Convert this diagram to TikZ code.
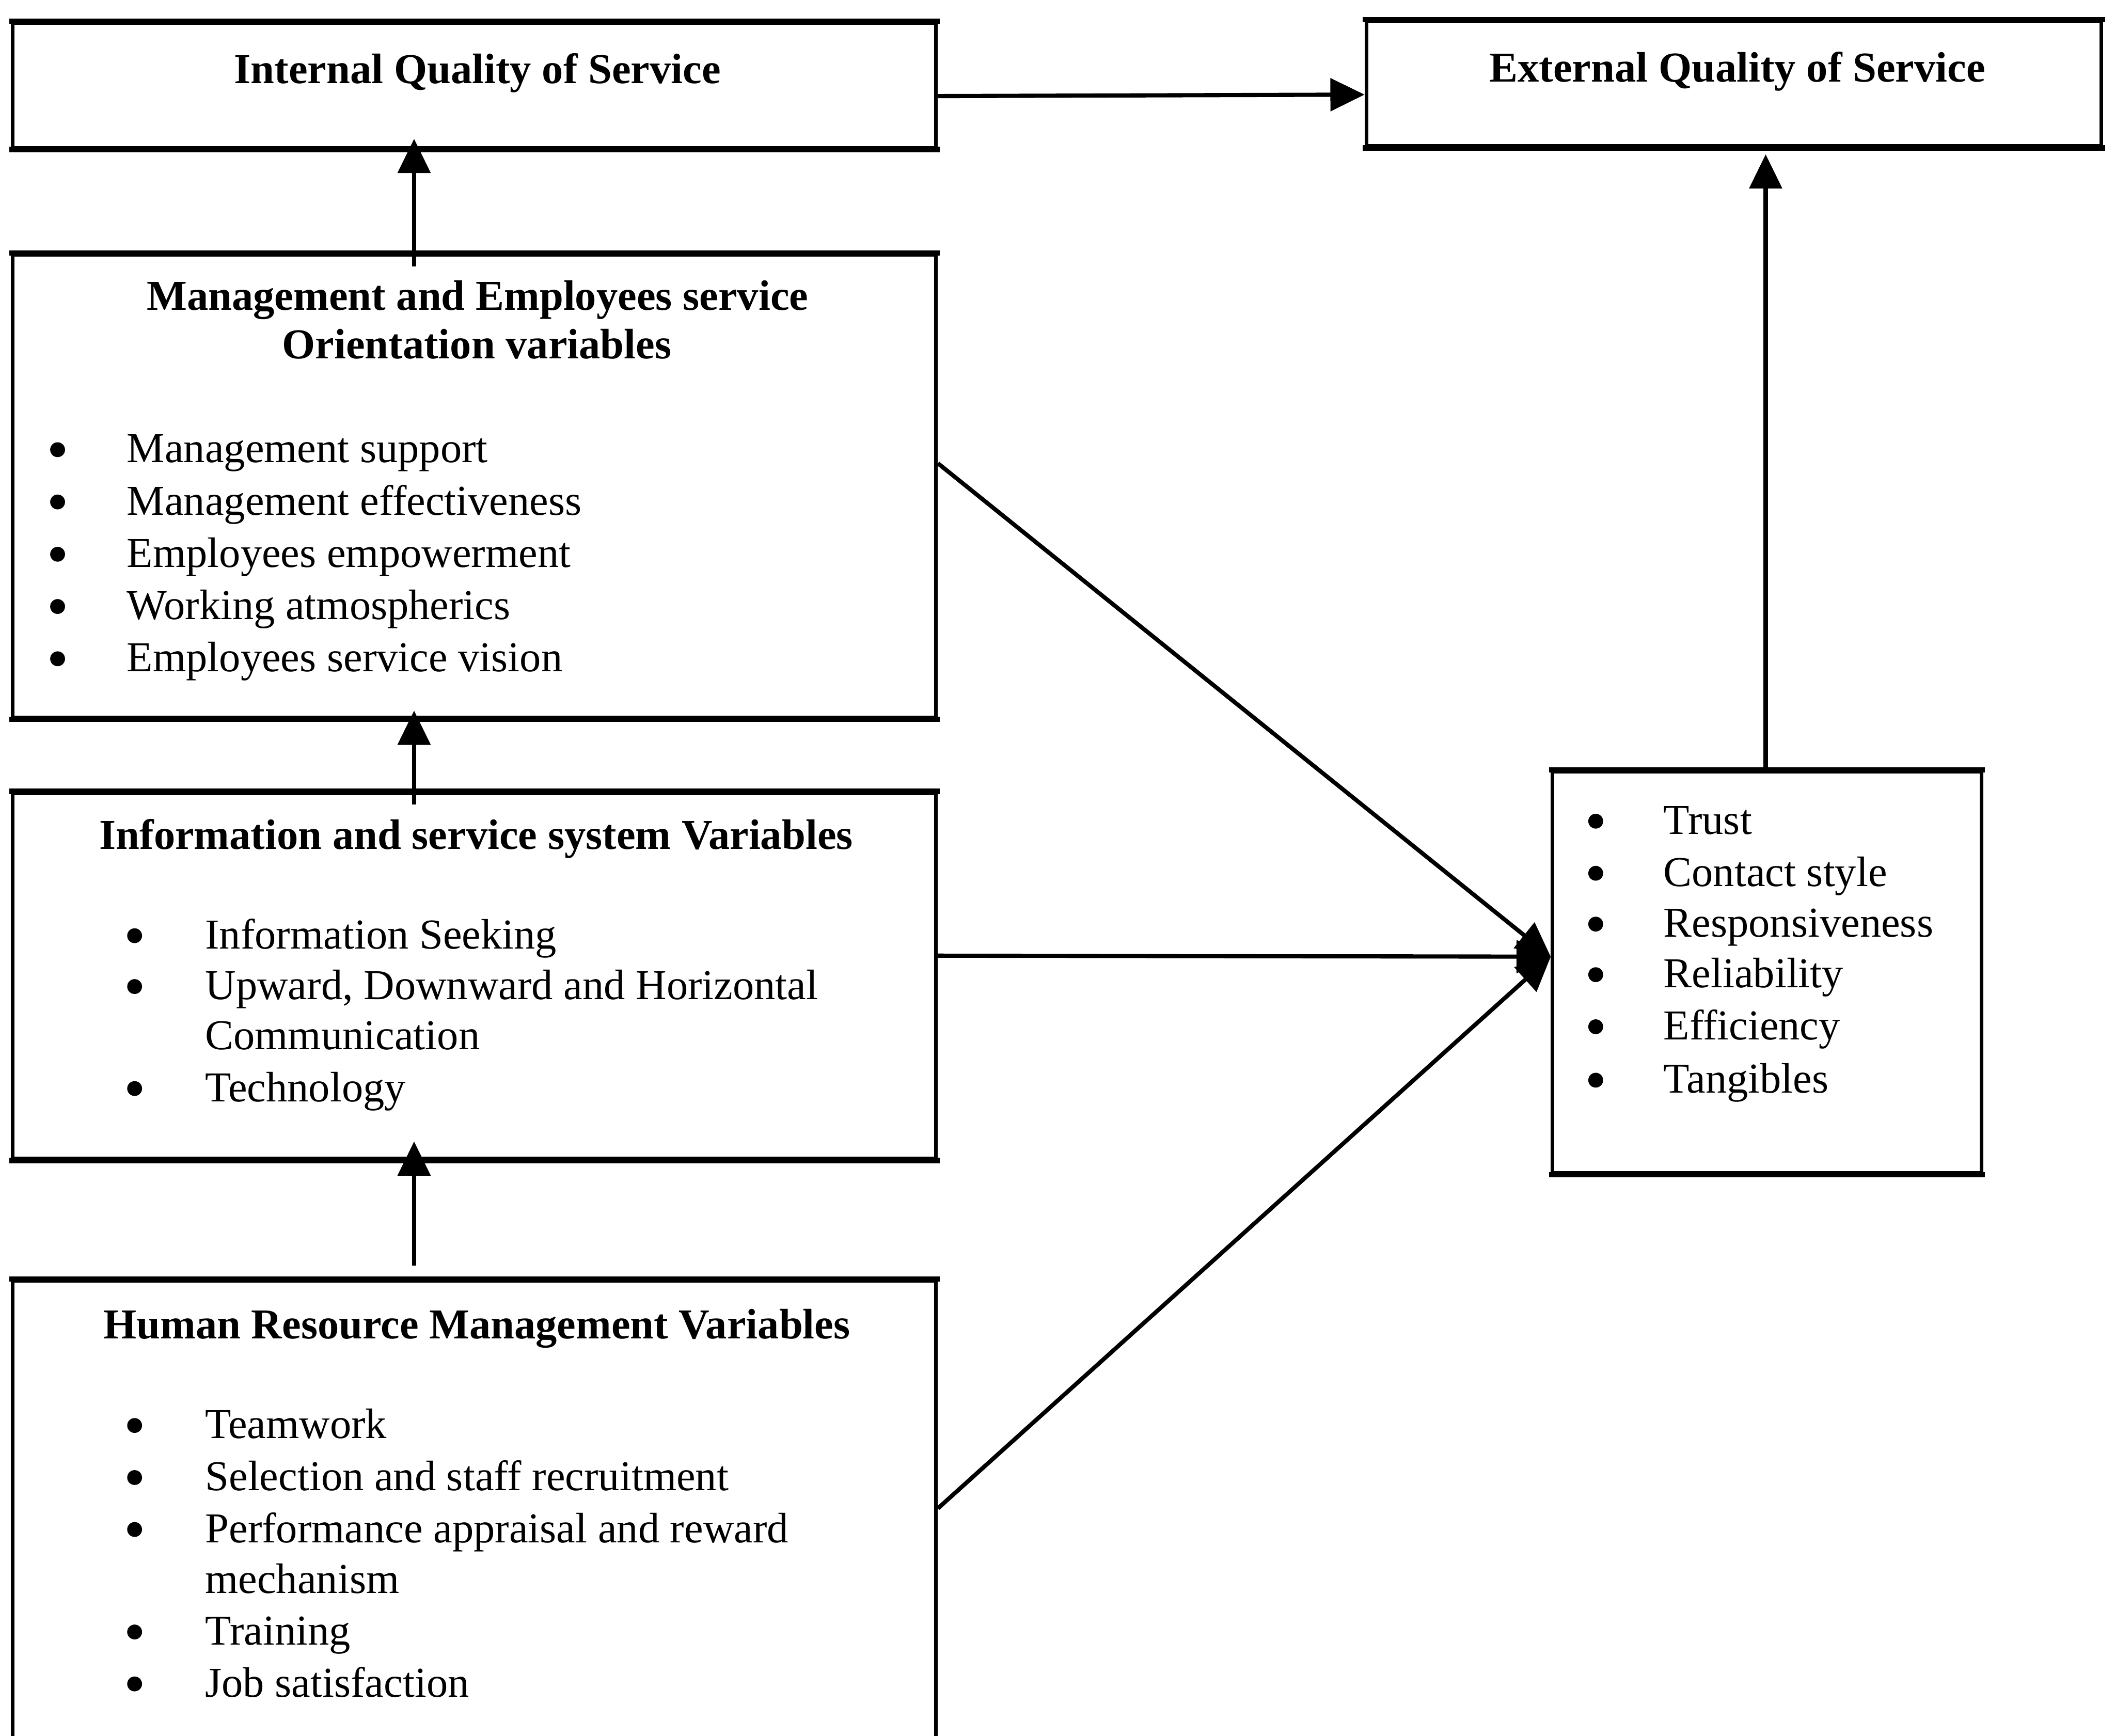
\documentclass[tikz,border=0pt]{standalone}
\usepackage{fontspec}
\setmainfont{Liberation Serif}
\usetikzlibrary{arrows.meta,fit,calc}
\begin{document}
\begin{tikzpicture}[x=0.3546pt,y=-0.3546pt,
  box/.style={draw=black, line width=0.95pt, inner sep=0pt},
  rim/.style={line width=1.4pt, shorten <=-0.475pt, shorten >=-0.475pt},
  head/.style={font=\bfseries\fontsize{11.2}{13.8}\selectfont, anchor=base, inner sep=0pt},
  item/.style={font=\fontsize{11.2}{13.8}\selectfont, anchor=base west, inner sep=0pt},
  dot/.style={circle, fill=black, inner sep=0pt, minimum size=3.9pt},
  arr/.style={-{Triangle[length=9pt,width=8.5pt]}, line width=1.1pt},
]
\clip (0,0) rectangle (1568,1287);
\fill[white] (0,0) rectangle (1568,1287);

% boxes
\node[box, fit={(9.5,17) (694,109.5)}] (int) {};
\node[box, fit={(1013,16) (1558,108.3)}] (ext) {};
\node[box, fit={(9.5,189) (694,532)}] (mgmt) {};
\node[box, fit={(9.5,588) (694,859)}] (info) {};
\node[box, fit={(9.5,949.5) (694,1320)}] (hrm) {};
\node[box, fit={(1151,572) (1469,869.5)}] (qual) {};

% heavier top and bottom rules
\foreach \b in {int,ext,mgmt,info,qual}{
  \draw[rim] (\b.north west) -- (\b.north east);
  \draw[rim] (\b.south west) -- (\b.south east);
}
\draw[rim] (hrm.north west) -- (hrm.north east);

% headings
\node[head] (int-t) at (354,62) {Internal Quality of Service};
\node[head] (ext-t) at (1288,60.5) {External Quality of Service};
\node[head] (mgmt-t1) at (354,230) {Management and Employees service};
\node[head] (mgmt-t2) at (353.5,265.7) {Orientation variables};
\node[head] (info-t) at (353,629.5) {Information and service system Variables};
\node[head] (hrm-t) at (353.5,992.6) {Human Resource Management Variables};

% management list
\foreach \y/\t [count=\i] in {343/Management support, 381.75/Management effectiveness,
    420.5/Employees empowerment, 459.25/Working atmospherics, 498/Employees service vision}{
  \node[dot] (mgmt-b\i) at (42.7,{\y-9.6}) {};
  \node[item] (mgmt-i\i) at (93.6,\y) {\t};
}

% information list
\node[dot] (info-b1) at (99.8,693.7) {};
\node[item] (info-i1) at (151.6,703.3) {Information Seeking};
\node[dot] (info-b2) at (99.8,731.4) {};
\node[item] (info-i2) at (151.6,741) {Upward, Downward and Horizontal};
\node[item] (info-i2b) at (151.6,778) {Communication};
\node[dot] (info-b3) at (99.8,807) {};
\node[item] (info-i3) at (151.6,816.6) {Technology};

% human resource list
\node[dot] (hrm-b1) at (99.8,1056.8) {};
\node[item] (hrm-i1) at (151.6,1066.4) {Teamwork};
\node[dot] (hrm-b2) at (99.8,1095.4) {};
\node[item] (hrm-i2) at (151.6,1105) {Selection and staff recruitment};
\node[dot] (hrm-b3) at (99.8,1133.9) {};
\node[item] (hrm-i3) at (151.6,1143.5) {Performance appraisal and reward};
\node[item] (hrm-i3b) at (151.6,1181) {mechanism};
\node[dot] (hrm-b4) at (99.8,1209.9) {};
\node[item] (hrm-i4) at (151.6,1219.5) {Training};
\node[dot] (hrm-b5) at (99.8,1248.4) {};
\node[item] (hrm-i5) at (151.6,1258) {Job satisfaction};

% quality dimensions
\foreach \y/\t [count=\i] in {618.4/Trust, 657/Contact style, 694.7/Responsiveness,
    732.2/Reliability, 770.8/Efficiency, 810.4/Tangibles}{
  \node[dot] (qual-b\i) at (1183,{\y-9.6}) {};
  \node[item] (qual-i\i) at (1232.7,\y) {\t};
}

% connectors
\coordinate (col) at (307,0);
\coordinate (colr) at (1309,0);
\coordinate (hub) at ($(qual.west)+(0,-11.5)$);

\draw[arr] ($(int.east)+(0,8)$) -- ($(ext.west)+(0,8)$);
\draw[arr, shorten <=-3.5pt, shorten >=-2.8pt] (mgmt.north -| col) -- (int.south -| col);
\draw[arr, shorten <=-3.5pt, shorten >=-2.3pt] (info.north -| col) -- (mgmt.south -| col);
\draw[arr, shorten <=3.5pt, shorten >=-5pt] (hrm.north -| col) -- (info.south -| col);
\draw[arr, shorten >=1.7pt] (qual.north -| colr) -- (ext.south -| colr);

\draw[arr] ($(mgmt.east)+(0,-17)$) -- (hub);
\draw[arr] ($(info.east)+(0,-15)$) -- (hub);
\draw[arr] ($(hrm.east)+(0,-16.5)$) -- (hub);
\end{tikzpicture}
\end{document}
